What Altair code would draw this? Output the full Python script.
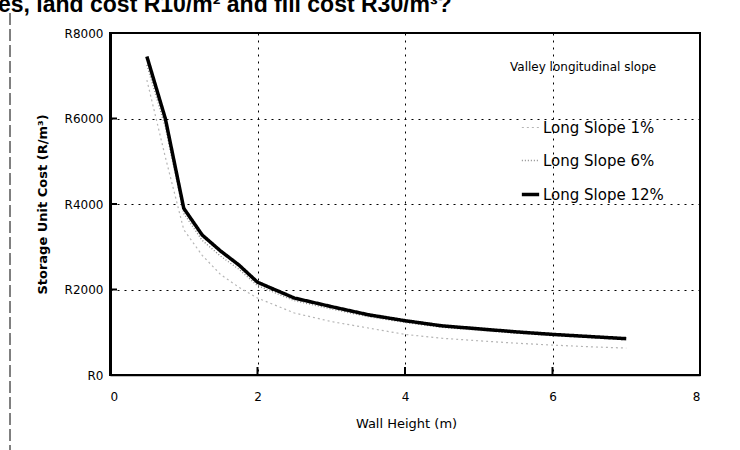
import altair as alt
import pandas as pd

# ---- data ----
wall_height = [0.5, 0.75, 1.0, 1.25, 1.5, 1.75, 2.0, 2.5, 3.0, 3.5, 4.0, 4.5, 5.0, 5.5, 6.0, 6.5, 7.0]
cost_slope_1 = [6900, 5100, 3400, 2800, 2350, 2050, 1800, 1450, 1250, 1100, 950, 860, 800, 745, 700, 660, 630]
cost_slope_6 = [7250, 5800, 3780, 3150, 2780, 2470, 2090, 1740, 1545, 1365, 1230, 1115, 1045, 980, 920, 875, 825]
cost_slope_12 = [7450, 6000, 3900, 3275, 2900, 2570, 2170, 1800, 1600, 1410, 1270, 1150, 1080, 1010, 950, 900, 850]
series_names = ["Long Slope 1%", "Long Slope 6%", "Long Slope 12%"]
x_ticks = [0, 2, 4, 6, 8]
y_ticks = [0, 2000, 4000, 6000, 8000]
top_text = "es, land cost R10/m\u00b2 and fill cost R30/m\u00b3?"

rows = []
for name, vals in zip(series_names, [cost_slope_1, cost_slope_6, cost_slope_12]):
    for h, c in zip(wall_height, vals):
        rows.append({"h": h, "cost": c, "series": name})
df = pd.DataFrame(rows)

FONT = "DejaVu Sans"
LEG_TITLE = "Valley longitudinal slope"

xscale = alt.Scale(domain=[0, 8], nice=False)
yscale = alt.Scale(domain=[0, 8000], nice=False)

lines = alt.Chart(df).mark_line(clip=True).encode(
    x=alt.X("h:Q", scale=xscale,
            axis=alt.Axis(values=x_ticks, title="Wall Height (m)", format="d",
                          grid=True, gridDash=[2, 5], gridColor="black", gridWidth=1,
                          ticks=False, labelPadding=16, labelFontSize=12, labelFont=FONT,
                          labelColor="black",
                          domainColor="black", domainWidth=1.5,
                          titleFont=FONT, titleFontSize=13, titleFontWeight="normal",
                          titleColor="black", titleX=296, titleY=48,
                          titleBaseline="middle", titleAlign="center")),
    y=alt.Y("cost:Q", scale=yscale,
            axis=alt.Axis(values=y_ticks, title="Storage Unit Cost (R/m\u00b3)",
                          labelExpr="'R' + datum.value",
                          grid=True, gridDash=[2, 5], gridColor="black", gridWidth=1,
                          ticks=False, labelPadding=7, labelFontSize=12, labelFont=FONT,
                          labelColor="black",
                          domainColor="black", domainWidth=3,
                          titleFont=FONT, titleFontSize=13, titleFontWeight="bold",
                          titleColor="black", titleX=-68, titleY=171,
                          titleAlign="center", titleBaseline="middle", titleAngle=270)),
    color=alt.Color("series:O",
                    scale=alt.Scale(domain=series_names, range=["#b5b5b5", "#8c8c8c", "black"]),
                    legend=alt.Legend(title=LEG_TITLE, orient="none",
                                      legendX=400, legendY=29, padding=0,
                                      titleFont=FONT, titleFontSize=12, titleFontWeight="normal",
                                      titleColor="black", titlePadding=44,
                                      labelFont=FONT, labelFontSize=15, labelColor="black",
                                      labelOffset=2, rowPadding=15,
                                      symbolType="stroke", symbolSize=300, symbolOffset=10)),
    strokeWidth=alt.StrokeWidth("series:O",
                                scale=alt.Scale(type="ordinal", domain=series_names,
                                                range=[1.2, 1.4, 3.5]),
                                legend=alt.Legend(title=LEG_TITLE)),
    strokeDash=alt.StrokeDash("series:O",
                              scale=alt.Scale(domain=series_names, range=[[2, 3], [1, 2], [1, 0]]),
                              legend=alt.Legend(title=LEG_TITLE)),
    order=alt.Order("h:Q"),
)

xt = pd.DataFrame({"v": x_ticks[1:-1]})
x_tick_marks = alt.Chart(xt).mark_rule(color="black", strokeWidth=2).encode(
    x=alt.X("v:Q", scale=xscale), y=alt.value(342), y2=alt.value(334))

yt = pd.DataFrame({"v": y_ticks[1:-1]})
y_tick_marks = alt.Chart(yt).mark_rule(color="black", strokeWidth=2).encode(
    y=alt.Y("v:Q", scale=yscale), x=alt.value(0), x2=alt.value(7))

page_edge = alt.Chart(pd.DataFrame({"a": [0]})).mark_rule(
    color="black", strokeWidth=1, strokeDash=[12, 4]).encode(
    x=alt.value(-100), y=alt.value(-20), y2=alt.value(417))

top = alt.Chart(pd.DataFrame({"t": [top_text]})).mark_text(
    align="left", baseline="alphabetic", font="Liberation Sans", fontSize=23,
    fontWeight="bold", color="black").encode(
    text="t:N", x=alt.value(-112), y=alt.value(-21))

chart = alt.layer(lines, x_tick_marks, y_tick_marks, page_edge, top).properties(
    width=590, height=342,
    autosize=alt.AutoSizeParams(type="none"),
    padding={"left": 110, "top": 33, "right": 40, "bottom": 75},
    background="white",
).configure_view(stroke="black", strokeWidth=2)

chart.save("out.html", embed_options={"renderer": "svg", "actions": False})
